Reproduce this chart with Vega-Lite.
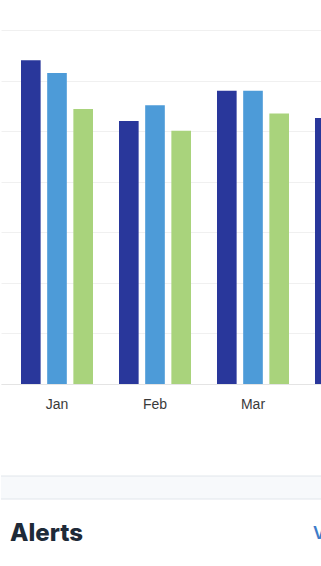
{
  "$schema": "https://vega.github.io/schema/vega-lite/v6.json",
  "background": "white",
  "padding": {"left": 0, "top": 30, "right": 0, "bottom": 0},
  "spacing": 64,
  "config": {"view": {"stroke": null}, "font": "Liberation Sans"},
  "vconcat": [
    {
      "width": 406,
      "height": 354,
      "data": {"values": [
        {"month": "Jan", "series": "A", "value": 64},
        {"month": "Jan", "series": "B", "value": 61.5},
        {"month": "Jan", "series": "C", "value": 54.4},
        {"month": "Feb", "series": "A", "value": 52},
        {"month": "Feb", "series": "B", "value": 55.1},
        {"month": "Feb", "series": "C", "value": 50.1},
        {"month": "Mar", "series": "A", "value": 58},
        {"month": "Mar", "series": "B", "value": 58},
        {"month": "Mar", "series": "C", "value": 53.5},
        {"month": "Apr", "series": "A", "value": 52.6}
      ]},
      "mark": {"type": "bar"},
      "encoding": {
        "x": {
          "field": "month", "type": "nominal", "sort": ["Jan", "Feb", "Mar", "Apr"],
          "scale": {"paddingInner": 0.2653, "paddingOuter": 0.2041},
          "axis": {"title": null, "labelAngle": 0, "ticks": false, "tickSize": 0, "labelPadding": 13,
                   "labelFontSize": 14, "labelColor": "#3a3a3a", "domainColor": "#e4e4e4", "grid": false}
        },
        "xOffset": {"field": "series", "type": "nominal", "scale": {"paddingInner": 0.25, "paddingOuter": 0}},
        "y": {
          "field": "value", "type": "quantitative", "scale": {"domain": [0, 70]},
          "axis": {"title": null, "labels": false, "ticks": false, "domain": false,
                   "values": [0, 10, 20, 30, 40, 50, 60, 70], "gridColor": "#f0f0f0"}
        },
        "color": {
          "field": "series", "type": "nominal",
          "scale": {"domain": ["A", "B", "C"], "range": ["#29379b", "#4d9bd8", "#a9d37c"]},
          "legend": null
        }
      }
    },
    {
      "spacing": 0,
      "vconcat": [
        {
          "width": 330,
          "height": 23,
          "view": {"fill": "#f7f9fb", "stroke": null},
          "data": {"values": [{"edge": 0}, {"edge": 1}]},
          "mark": {"type": "rule", "color": "#e1e6eb", "strokeWidth": 1},
          "encoding": {
            "y": {"field": "edge", "type": "quantitative", "scale": {"domain": [0, 1]}, "axis": null}
          }
        },
        {
          "width": 321,
          "height": 68,
          "layer": [
            {
              "data": {"values": [{"label": "Alerts"}]},
              "mark": {"type": "text", "align": "left", "baseline": "middle", "font": "Inter", "fontSize": 24, "fontWeight": 800, "color": "#1e2a38"},
              "encoding": {
                "x": {"field": "label", "type": "nominal", "scale": {"type": "point", "domain": ["Alerts", "View all"], "padding": 0.0297}, "axis": null},
                "text": {"field": "label"}
              }
            },
            {
              "data": {"values": [{"label": "View all"}]},
              "mark": {"type": "text", "align": "left", "baseline": "middle", "font": "Inter", "fontSize": 17, "fontWeight": 600, "color": "#3d7cc9"},
              "encoding": {
                "x": {"field": "label", "type": "nominal", "axis": null},
                "text": {"field": "label"}
              }
            }
          ]
        }
      ]
    }
  ]
}
